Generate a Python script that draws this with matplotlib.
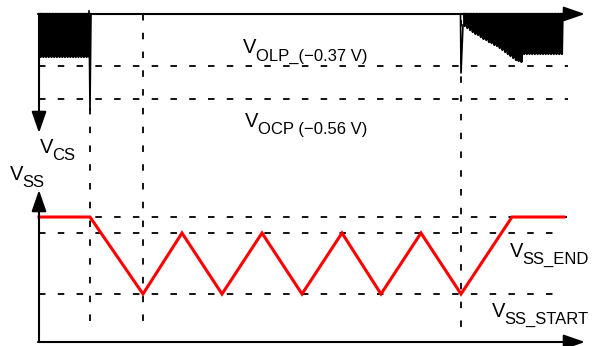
import matplotlib
matplotlib.use("Agg")
import matplotlib.pyplot as plt

plt.rcParams['font.family'] = ['Liberation Sans', 'DejaVu Sans']

# diagram coordinates (pixels of the 594x346 picture, y grows downward)
t_start = 39          # left edge of both time axes
t_fault = 90          # fault detected
t_restart = 143       # first soft-start valley
t_recover = 461       # last valley / fault appears again
t_end = 585           # arrow tip

cs_axis = 14          # V_CS zero line
v_olp = 66            # V_OLP (-0.37 V)
v_ocp = 99            # V_OCP (-0.56 V)

ss_axis = 342         # V_SS zero line
ss_high = 217
ss_end = 233
ss_start = 294

# soft-start ramp (red)
ss_t = [39, 90, 143, 182, 222, 262, 302, 342, 381, 421, 461, 512, 564]
ss_v = [217, 217, 294, 233, 294, 233, 294, 233, 294, 233, 294, 217, 217]

# left CS burst: pulse positions and how deep each goes
left_pulse_t = [40, 42.7, 45.4, 48.1, 50.8, 53.5, 56.2, 58.9, 61.6, 64.3,
                67, 69.7, 72.4, 75.1, 77.8, 80.5, 83.2, 85.9, 88.6]
left_pulse_v = [57] * 19
left_spike_t = 90
left_spike_v = 110

# right CS burst
right_spike_t = 461
right_spike_v = 73
right_pulse_t = [464.0, 466.7, 469.4, 472.1, 474.8, 477.5, 480.2, 482.9, 485.6, 488.3,
                 491.0, 493.7, 496.4, 499.1, 501.8, 504.5, 507.2, 509.9, 512.6, 515.3,
                 518.0, 520.7, 523.4, 526.1, 528.8, 531.5, 534.2, 536.9, 539.6, 542.3,
                 545.0, 547.7, 550.4, 553.1, 555.8, 558.5, 561.2]
right_pulse_v = [26, 28, 30, 32, 34, 35, 37, 39, 40, 42,
                 43, 45, 46, 48, 50, 52, 54, 56, 58, 60,
                 61, 62, 54, 54, 54, 54, 54, 54, 54, 54,
                 54, 54, 54, 54, 54, 54, 54]

fig = plt.figure(figsize=(5.94, 3.46), dpi=100)
ax = fig.add_axes([0, 0, 1, 1])
ax.set_xlim(0, 594)
ax.set_ylim(346, 0)
ax.axis('off')

dash = dict(color='black', lw=1.3, dashes=(3.6, 6.8))

# horizontal guides
ax.plot([t_start, 568], [v_olp, v_olp], **dash)
ax.plot([t_start, 568], [v_ocp, v_ocp], **dash)
ax.plot([t_start, 567], [ss_high, ss_high], **dash)
ax.plot([t_start, 558], [ss_end, ss_end], **dash)
ax.plot([t_start, 558], [ss_start, ss_start], **dash)

# vertical guides
ax.plot([t_fault, t_fault], [cs_axis, 328], **dash)
ax.plot([t_restart, t_restart], [cs_axis, 328], **dash)
ax.plot([t_recover, t_recover], [20, 328], **dash)

# axes with arrows
arrow = dict(arrowstyle='-|>,head_length=1.3,head_width=0.45', color='black', lw=1.5,
             shrinkA=0, shrinkB=0)
ax.annotate('', xy=(t_end, cs_axis), xytext=(t_start - 1, cs_axis), arrowprops=arrow)
ax.annotate('', xy=(t_start, 133), xytext=(t_start, cs_axis), arrowprops=arrow)
ax.annotate('', xy=(t_end, ss_axis), xytext=(t_start - 1, ss_axis), arrowprops=arrow)
ax.annotate('', xy=(t_start, 190), xytext=(t_start, ss_axis), arrowprops=arrow)

# CS bursts
def burst(ts, vs):
    xs, ys = [], []
    for t, v in zip(ts, vs):
        xs += [t, t + 0.7, t + 1.4]
        ys += [cs_axis, v, cs_axis]
    return xs, ys

xs, ys = burst(left_pulse_t, left_pulse_v)
ax.plot(xs, ys, color='black', lw=1.65)
ax.plot([left_spike_t - 1, left_spike_t, left_spike_t + 1],
        [cs_axis - 3, left_spike_v, cs_axis], color='black', lw=1.2)

xs, ys = burst(right_pulse_t, right_pulse_v)
ax.plot(xs, ys, color='black', lw=1.65)
ax.plot([right_spike_t - 0.5, right_spike_t, right_spike_t + 2],
        [cs_axis, right_spike_v, 25], color='black', lw=1.2)

# soft-start
ax.plot(ss_t, ss_v, color='#ff0000', lw=2.2, solid_joinstyle='miter')

# labels
def vlabel(x, y, sub, dy=7):
    ax.text(x, y, 'V', fontsize=14.5, ha='left', va='baseline')
    ax.text(x + 12.5, y + dy, sub, fontsize=12, ha='left', va='baseline')

vlabel(243, 53, 'OLP_(\u22120.37 V)', dy=8)
vlabel(245, 127, 'OCP (\u22120.56 V)')
vlabel(40, 153, 'CS')
vlabel(10, 180, 'SS')
vlabel(510, 257, 'SS_END')
vlabel(492, 317, 'SS_START')

fig.savefig('out.png', dpi=100)
